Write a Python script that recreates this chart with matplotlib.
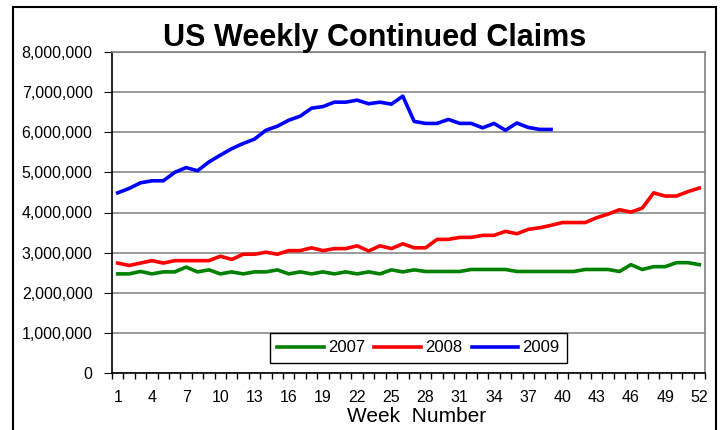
import numpy as np
import matplotlib
matplotlib.use("Agg")
import matplotlib.pyplot as plt
from matplotlib.ticker import FuncFormatter, MultipleLocator
from matplotlib.patches import Rectangle

plt.rcParams['font.family'] = ['Liberation Sans', 'DejaVu Sans']

# weekly continued claims, millions
weeks = list(range(1, 53))
claims_2007 = [2.47, 2.47, 2.53, 2.47, 2.52, 2.52, 2.64, 2.52, 2.57, 2.47,
               2.52, 2.47, 2.52, 2.52, 2.57, 2.47, 2.52, 2.47, 2.52, 2.47,
               2.52, 2.47, 2.52, 2.47, 2.57, 2.52, 2.57, 2.53, 2.53, 2.53,
               2.53, 2.58, 2.58, 2.58, 2.58, 2.53, 2.53, 2.53, 2.53, 2.53,
               2.53, 2.58, 2.58, 2.58, 2.53, 2.70, 2.58, 2.65, 2.65, 2.75,
               2.75, 2.70]
claims_2008 = [2.74, 2.68, 2.74, 2.80, 2.74, 2.80, 2.80, 2.80, 2.80, 2.91,
               2.83, 2.96, 2.96, 3.01, 2.96, 3.05, 3.05, 3.12, 3.05, 3.10,
               3.10, 3.17, 3.04, 3.17, 3.10, 3.22, 3.12, 3.12, 3.33, 3.33,
               3.38, 3.38, 3.43, 3.43, 3.53, 3.47, 3.58, 3.62, 3.68, 3.75,
               3.75, 3.75, 3.87, 3.96, 4.07, 4.01, 4.11, 4.49, 4.41, 4.41,
               4.52, 4.61]
claims_2009 = [4.49, 4.60, 4.74, 4.79, 4.79, 5.00, 5.12, 5.04, 5.26, 5.43,
               5.59, 5.72, 5.83, 6.05, 6.15, 6.30, 6.40, 6.60, 6.64, 6.75,
               6.75, 6.80, 6.71, 6.75, 6.70, 6.90, 6.27, 6.22, 6.22, 6.32,
               6.22, 6.22, 6.11, 6.22, 6.05, 6.23, 6.12, 6.07, 6.07]
series = [("2007", claims_2007, "#008000"),
          ("2008", claims_2008, "#FF0000"),
          ("2009", claims_2009, "#0000FF")]
week_ticks = list(range(1, 53, 3))

W, H = 727, 430
fig = plt.figure(figsize=(W / 100, H / 100), dpi=100)
ax = fig.add_axes([112 / W, 1 - 373 / H, (705 - 112) / W, (373 - 52) / H])

for name, vals, col in series:
    ax.plot(weeks[:len(vals)], np.array(vals) * 1e6, color=col, lw=2.6,
            label=name, solid_joinstyle="round")

ax.set_xlim(0.5, 52.5)
ax.set_ylim(0, 8e6)
ax.yaxis.set_major_locator(MultipleLocator(1e6))
ax.yaxis.set_major_formatter(FuncFormatter(lambda v, _: f"{int(v):,}"))
ax.grid(axis="y", color="#808080", lw=1.1)
ax.set_axisbelow(True)

ax.set_xticks(week_ticks)
ax.set_xticks(np.arange(0.5, 53, 1), minor=True)
ax.tick_params(axis="x", which="major", length=0, pad=12, labelsize=11.5)
ax.tick_params(axis="x", which="minor", length=4, direction="out", width=1)
ax.tick_params(axis="y", length=6, direction="out", pad=8, labelsize=11.5)

for s in ["left", "bottom"]:
    ax.spines[s].set_color("black")
    ax.spines[s].set_linewidth(1.2)
for s in ["top", "right"]:
    ax.spines[s].set_color("#808080")
    ax.spines[s].set_linewidth(1.2)

ax.set_xlabel("Week  Number", fontsize=15)
ax.xaxis.set_label_coords((417 - 112) / 593, -(416 - 373) / 321)
ax.xaxis.label.set_va("center")

leg = ax.legend(loc="center", bbox_to_anchor=((418.5 - 112) / 593, (373 - 348) / 321),
                ncol=3, fontsize=12, frameon=True, fancybox=False,
                handlelength=2.8, handletextpad=0.25, columnspacing=0.55,
                borderpad=0.45, borderaxespad=0, framealpha=1)
leg.get_frame().set_edgecolor("black")
leg.get_frame().set_linewidth(1.0)

fig.text(375 / W, 1 - 38 / H, "US Weekly Continued Claims", fontsize=22,
         fontweight="bold", ha="center", va="center")

# outer chart border
fig.patches.append(Rectangle((13 / W, -0.05), (716 - 13) / W, 1.05 - 7 / H,
                             transform=fig.transFigure, fill=False,
                             edgecolor="black", lw=1.5))

plt.savefig("out.png", dpi=100)
plt.close()
